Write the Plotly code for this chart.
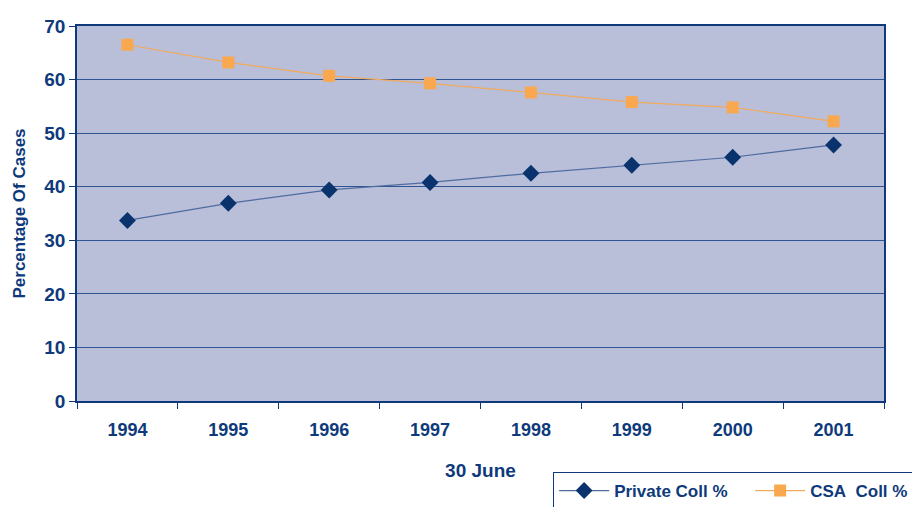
import plotly.graph_objects as go

years = ["1994", "1995", "1996", "1997", "1998", "1999", "2000", "2001"]
private_coll = [33.7, 36.9, 39.4, 40.8, 42.5, 44.0, 45.5, 47.8]
csa_coll = [66.5, 63.2, 60.7, 59.3, 57.6, 55.8, 54.8, 52.2]
y_ticks = [0, 10, 20, 30, 40, 50, 60, 70]

NAVY = "#0E3A7B"
FONT = "Liberation Sans, Arial, sans-serif"

fig = go.Figure()
fig.add_trace(go.Scatter(
    x=years, y=private_coll, name="Private Coll %", mode="lines+markers",
    line=dict(color="#4F6CA0", width=1.2),
    marker=dict(symbol="diamond", size=13, color="#0A336E"),
))
fig.add_trace(go.Scatter(
    x=years, y=csa_coll, name="CSA\u00a0 Coll %", mode="lines+markers",
    line=dict(color="#F2AA5C", width=1.2),
    marker=dict(symbol="square", size=12, color="#F9A850"),
))

fig.update_layout(
    width=912, height=507,
    margin=dict(l=77, r=28, t=26, b=106, autoexpand=False),
    paper_bgcolor="white",
    plot_bgcolor="#B9BED9",
    font=dict(family=FONT, color=NAVY, size=17),
    showlegend=True,
    legend=dict(
        orientation="h", x=0.59, xanchor="left", y=-0.1893, yanchor="top",
        bordercolor=NAVY, borderwidth=1, bgcolor="white",
        font=dict(family=FONT, size=17, color=NAVY, weight="bold"),
        tracegroupgap=0, itemwidth=50, entrywidth=131,
    ),
)
fig.update_xaxes(
    type="category", range=[-0.5, 7.5],
    showline=True, linecolor=NAVY, linewidth=1.5, mirror=True,
    ticks="outside", ticklen=6, tickcolor=NAVY, tickson="boundaries",
    showgrid=False,
    ticklabelstandoff=12,
    tickfont=dict(family=FONT, size=18, color=NAVY, weight="bold"),
    title=dict(text="30 June", standoff=24,
               font=dict(family=FONT, size=19, color=NAVY, weight="bold")),
)
fig.update_yaxes(
    range=[0, 70], tickvals=y_ticks,
    showline=True, linecolor=NAVY, linewidth=1.5, mirror=True,
    ticks="outside", ticklen=6, tickcolor=NAVY,
    showgrid=True, gridcolor="#2F5592", gridwidth=1.3,
    zeroline=False,
    tickfont=dict(family=FONT, size=19, color=NAVY, weight="bold"),
    title=dict(text="Percentage Of Cases", standoff=14,
               font=dict(family=FONT, size=17, color=NAVY, weight="bold")),
)

fig.write_html("out.html")
